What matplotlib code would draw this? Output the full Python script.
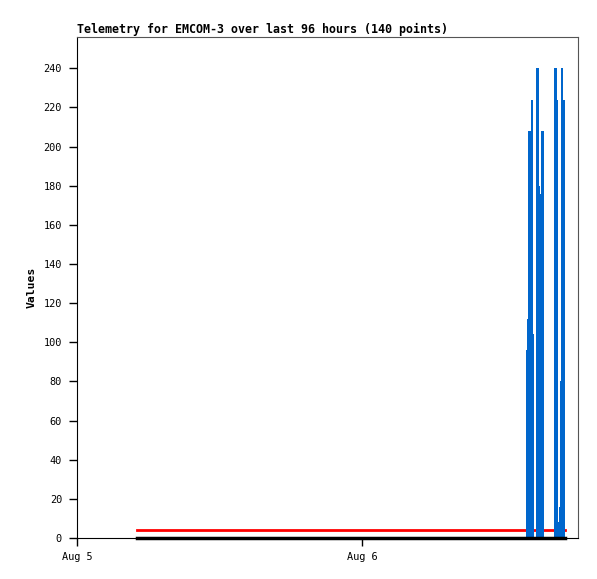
import matplotlib
matplotlib.use("Agg")
import matplotlib.pyplot as plt

# hours since Aug 5 00:00
thresh_start = 5.05
thresh_end = 41.1
upper_limit = 4
lower_limit = 0

blue_hours = [5.05, 37.64, 37.73, 37.81, 37.90, 37.98, 38.06, 38.15, 38.23, 38.32,
              38.40, 38.48, 38.57, 38.65, 38.74, 38.82, 38.91, 38.99, 39.07, 39.16,
              39.24, 39.33, 40.17, 40.25, 40.34, 40.42, 40.51, 40.59, 40.67, 40.76,
              40.84, 40.93, 41.01, 41.10]
blue_values = [0, 0, 0, 96, 112, 160, 208, 208, 224, 224,
               208, 104, 0, 0, 240, 240, 180, 60, 176, 208,
               208, 0, 0, 240, 240, 224, 8, 16, 16, 80,
               240, 224, 224, 0]

xticks = [0, 24]
xtick_labels = ["Aug 5", "Aug 6"]
yticks = list(range(0, 241, 20))

mono = "DejaVu Sans Mono"

fig = plt.figure(figsize=(5.97, 5.79), dpi=100)
ax = fig.add_axes([77 / 597, 41 / 579, 501 / 597, 501 / 579])

ax.plot([thresh_start, thresh_end], [upper_limit, upper_limit], color="#ff0000", linewidth=2,
        zorder=2)
ax.fill_between(blue_hours, 0, blue_values, step="mid", color="#0066cc", linewidth=0,
                zorder=3)
ax.plot([thresh_start, thresh_end], [lower_limit, lower_limit], color="black", linewidth=2.5,
        clip_on=False, zorder=4)

ax.set_xlim(0, 42.19)
ax.set_ylim(0, 256)
ax.set_xticks(xticks)
ax.set_xticklabels(xtick_labels, fontfamily=mono, fontsize=7.4)
ax.set_yticks(yticks)
ax.set_yticklabels([str(v) for v in yticks], fontfamily=mono, fontsize=7.4)
ax.tick_params(direction="out", length=5.8, width=1, color="black")
ax.tick_params(axis="y", pad=5)
ax.tick_params(axis="x", pad=4)

for side in ["top", "right"]:
    ax.spines[side].set_color("#555555")
for side in ["left", "bottom"]:
    ax.spines[side].set_color("black")

ax.set_ylabel("Values", fontfamily=mono, fontweight="bold", fontsize=8.2, labelpad=5)
ax.set_title("Telemetry for EMCOM-3 over last 96 hours (140 points)", loc="left",
             fontfamily=mono, fontweight="bold", fontsize=8.35, pad=3)

fig.savefig("out.png", dpi=100)
